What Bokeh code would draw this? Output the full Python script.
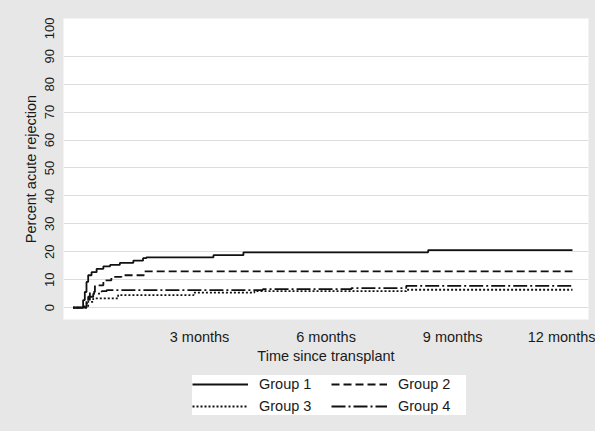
from bokeh.plotting import figure
from bokeh.layouts import column
from bokeh.models import FixedTicker, Range1d, Legend, LegendItem
from bokeh.embed import file_html
from bokeh.resources import INLINE

# Data (months since transplant, percent acute rejection), step functions
g1_t = [0, 0.20, 0.24, 0.28, 0.32, 0.36, 0.44, 0.56, 0.72, 0.88, 1.11, 1.43, 1.66, 1.74, 3.33, 4.04, 8.42, 11.84]
g1_y = [0, 0, 2.7, 5.6, 9.2, 11.6, 12.7, 13.9, 14.8, 15.3, 16.0, 16.8, 17.7, 18.0, 18.8, 19.8, 20.6, 20.6]

g2_t = [0, 0.28, 0.32, 0.40, 0.52, 0.72, 0.91, 1.15, 1.68, 11.84]
g2_y = [0, 0, 2.7, 5.6, 8.0, 9.8, 11.0, 11.6, 13.0, 13.0]

g3_t = [0, 0.30, 0.36, 0.48, 1.07, 2.86, 4.30, 7.90, 11.84]
g3_y = [0, 0, 2.1, 3.3, 4.5, 5.4, 5.9, 6.4, 6.4]

g4_t = [0, 0.25, 0.28, 0.36, 0.48, 0.68, 0.80, 4.50, 6.60, 7.90, 11.84]
g4_y = [0, 0, 1.5, 3.9, 5.0, 5.9, 6.3, 6.6, 7.0, 7.8, 7.8]

group_names = ["Group 1", "Group 2", "Group 3", "Group 4"]
x_ticks = [3, 6, 9, 12]
x_tick_labels = ["3 months", "6 months", "9 months", "12 months"]
y_ticks = [0, 10, 20, 30, 40, 50, 60, 70, 80, 90, 100]
grid_ticks = [0, 10, 20, 30, 40, 50, 60, 70, 80, 90]

FONT = "Liberation Sans"
TXT = "#1a1a1a"
BG = "#e7e7e7"
LINE = "#111111"
LW = 1.8

styles = ["solid", "8 4", "2 2", "14 3 2 3"]

p = figure(width=595, height=366, output_backend="svg", toolbar_location=None,
           x_range=Range1d(-0.225, 12.22), y_range=Range1d(-4.24, 103.5),
           min_border_left=63, min_border_right=7, min_border_top=18, min_border_bottom=43)
p.border_fill_color = BG
p.background_fill_color = "white"
p.outline_line_color = None

data = [(g1_t, g1_y), (g2_t, g2_y), (g3_t, g3_y), (g4_t, g4_y)]
for (t, y), dash in zip(data, styles):
    p.step(t, y, mode="after", line_color=LINE, line_width=LW, line_dash=dash)

# axes
p.xaxis.ticker = FixedTicker(ticks=x_ticks)
p.xaxis.major_label_overrides = {k: v for k, v in zip(x_ticks, x_tick_labels)}
p.yaxis.ticker = FixedTicker(ticks=y_ticks)
for ax in (p.xaxis, p.yaxis):
    ax.axis_line_color = None
    ax.major_tick_line_color = None
    ax.minor_tick_line_color = None
    ax.major_tick_out = 0
    ax.major_tick_in = 0
    ax.major_label_text_font = FONT
    ax.major_label_text_color = TXT
    ax.axis_label_text_font = FONT
    ax.axis_label_text_color = TXT
    ax.axis_label_text_font_style = "normal"

p.xaxis.axis_label = "Time since transplant"
p.xaxis.major_label_text_font_size = "14.5px"
p.xaxis.axis_label_text_font_size = "14.5px"
p.xaxis.major_label_standoff = 9
p.xaxis.axis_label_standoff = 0

p.yaxis.axis_label = "Percent acute rejection"
p.yaxis.major_label_orientation = "vertical"
p.yaxis.major_label_text_font_size = "13px"
p.yaxis.axis_label_text_font_size = "14.5px"
p.yaxis.major_label_standoff = 9
p.yaxis.axis_label_standoff = 4

p.xgrid.grid_line_color = None
p.ygrid.ticker = FixedTicker(ticks=grid_ticks)
p.ygrid.grid_line_color = "#dcdcdc"
p.ygrid.grid_line_width = 1

# legend strip below the plot (frame is aligned with the plot frame above)
q = figure(width=595, height=65, output_backend="svg", toolbar_location=None,
           x_axis_type=None, y_axis_type=None,
           x_range=Range1d(0, 1), y_range=Range1d(0, 1),
           min_border_left=0, min_border_right=0, min_border_top=0, min_border_bottom=0)
q.border_fill_color = None
q.background_fill_color = None
q.outline_line_color = None
q.grid.grid_line_color = None
leg_r = []
for dash in styles:
    # line kept outside the visible range; it only supplies the legend glyph style
    leg_r.append(q.line(x=[5, 6], y=[5, 5], line_color=LINE, line_width=LW, line_dash=dash))

items = [LegendItem(label=n, renderers=[r]) for n, r in zip(group_names, leg_r)]
legend = Legend(items=items, location=(129, 16), orientation="horizontal", ncols=2,
                glyph_width=56, glyph_height=18, label_height=18, label_width=68,
                label_standoff=11, padding=6, spacing=4, margin=0,
                background_fill_color="white", background_fill_alpha=1.0,
                border_line_color=None,
                label_text_font=FONT, label_text_font_size="14.5px", label_text_color=TXT)
q.add_layout(legend, "center")

layout = column(p, q, spacing=0, styles={"background-color": BG})
open("out.html", "w").write(file_html(layout, INLINE))
